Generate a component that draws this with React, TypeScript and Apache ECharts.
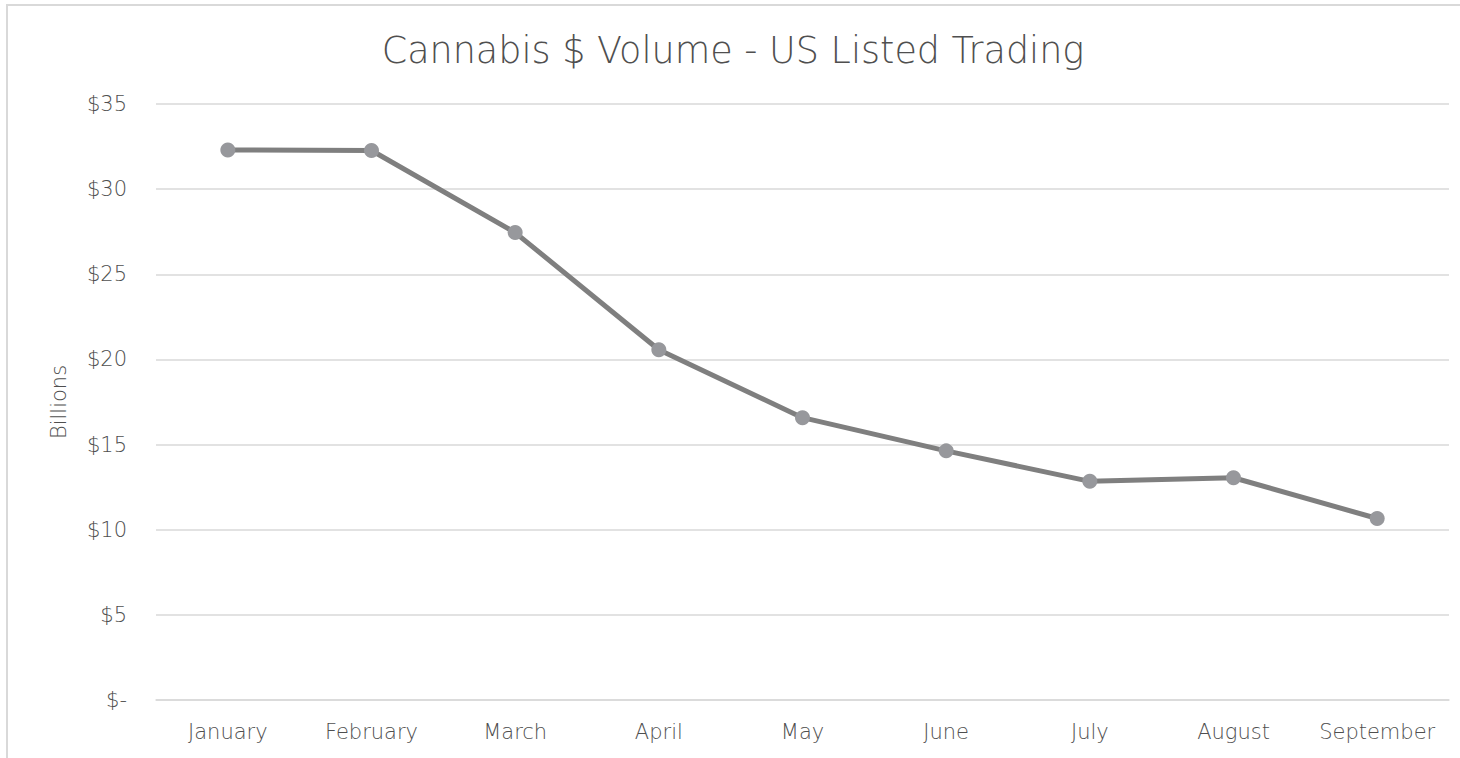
import React, { useEffect, useRef } from "react";
import * as echarts from "echarts";

const months = ["January", "February", "March", "April", "May", "June", "July", "August", "September"];
const volumeBillions = [32.3, 32.27, 27.45, 20.57, 16.58, 14.63, 12.84, 13.05, 10.66];
const yTicks = { min: 0, max: 35, interval: 5 };
const titleText = "Cannabis $ Volume - US Listed Trading";
const yAxisName = "Billions";

const FONT = "'DejaVu Sans', sans-serif";
const TEXT = "#4f4f4f";
const GRID = "#d9d9d9";

export default function App() {
  const ref = useRef<HTMLDivElement>(null);
  useEffect(() => {
    if (!ref.current) return;
    const chart = echarts.init(ref.current, null, { renderer: "svg" });
    chart.setOption({
      animation: false,
      backgroundColor: "#ffffff",
      title: {
        text: titleText,
        left: 728,
        textAlign: "center",
        top: 27,
        textStyle: { fontFamily: FONT, fontSize: 36.5, fontWeight: 200, color: TEXT },
      },
      graphic: [
        {
          type: "rect",
          shape: { x: 7, y: 5, width: 1480, height: 800 },
          style: { fill: "none", stroke: GRID, lineWidth: 2 },
          silent: true,
        },
      ],
      grid: { left: 156, right: 11, top: 104, bottom: 58, containLabel: false },
      xAxis: {
        type: "category",
        data: months,
        boundaryGap: true,
        axisLine: { show: true, lineStyle: { color: GRID, width: 1.5 } },
        axisTick: { show: false },
        axisLabel: {
          interval: 0,
          hideOverlap: false,
          fontFamily: FONT,
          fontSize: 21,
          fontWeight: 200,
          color: TEXT,
          margin: 21,
        },
      },
      yAxis: {
        type: "value",
        min: yTicks.min,
        max: yTicks.max,
        interval: yTicks.interval,
        name: yAxisName,
        nameLocation: "middle",
        nameGap: 87,
        nameRotate: 90,
        nameTextStyle: { fontFamily: FONT, fontSize: 21, fontWeight: 200, color: TEXT },
        axisLine: { show: false },
        axisTick: { show: false },
        splitLine: { show: true, lineStyle: { color: GRID, width: 1.5 } },
        axisLabel: {
          fontFamily: FONT,
          fontSize: 21,
          fontWeight: 200,
          color: TEXT,
          margin: 29,
          formatter: (v: number) => (v === 0 ? "$-" : "$" + v),
        },
      },
      series: [
        {
          type: "line",
          data: volumeBillions,
          symbol: "circle",
          symbolSize: 15,
          lineStyle: { color: "#7f7f7f", width: 5 },
          itemStyle: { color: "#97989c", borderWidth: 0 },
        },
      ],
    });
    return () => chart.dispose();
  }, []);
  return (
    <div
      ref={ref}
      style={{ position: "fixed", left: 0, top: 0, width: 1460, height: 758 }}
    />
  );
}
